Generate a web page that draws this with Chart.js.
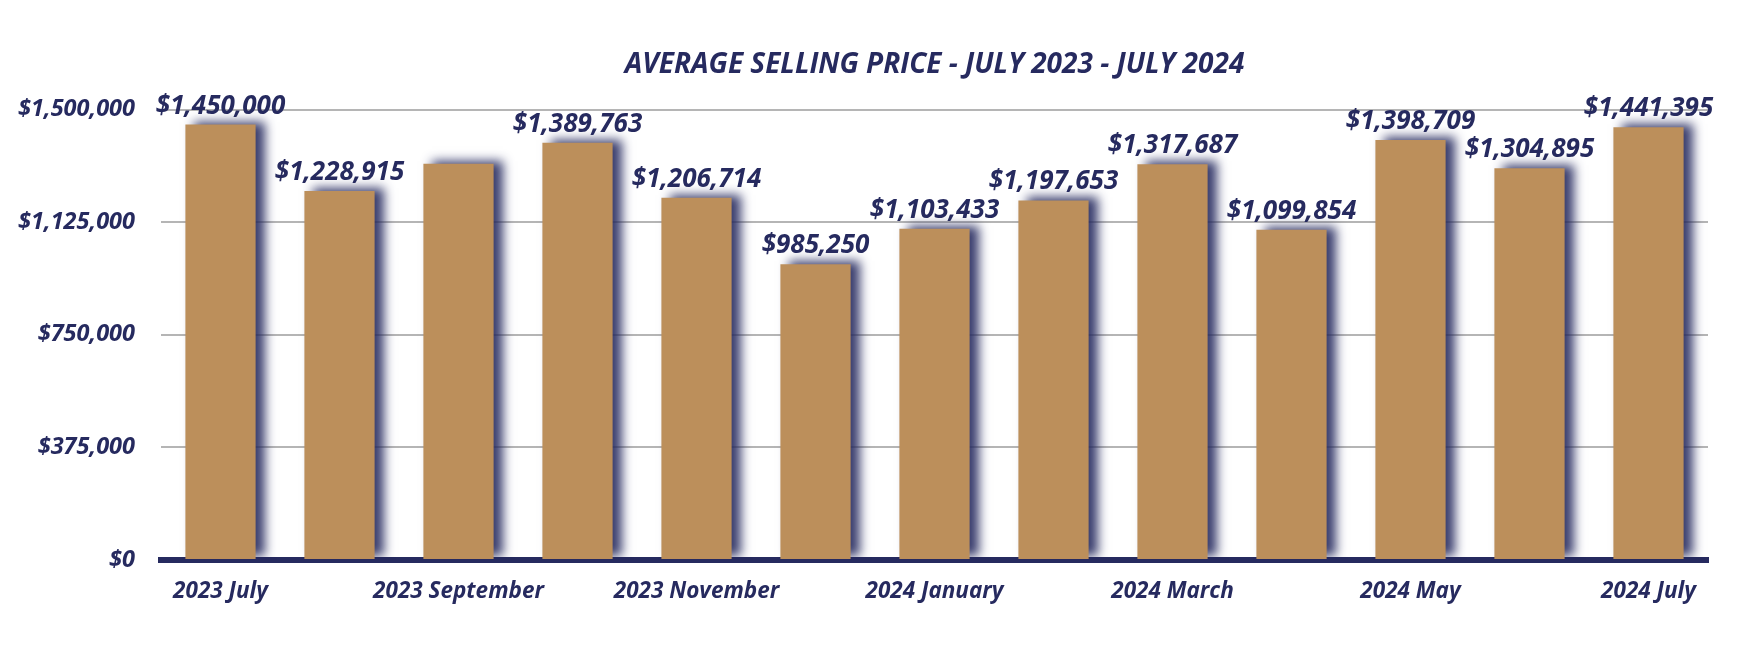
<!DOCTYPE html>
<html>
<head>
<meta charset="utf-8">
<script src="https://cdn.jsdelivr.net/npm/chart.js@4/dist/chart.umd.min.js"></script>
<style>
  html, body { margin: 0; padding: 0; background: #ffffff; }
  #wrap { width: 1760px; height: 660px; }
</style>
</head>
<body>
<div id="wrap"><canvas id="c" width="1760" height="660"></canvas></div>
<script>
// ---- data ----
const categories = [
  "2023 July", "2023 August", "2023 September", "2023 October", "2023 November",
  "2023 December", "2024 January", "2024 February", "2024 March", "2024 April",
  "2024 May", "2024 June", "2024 July"
];
const avgPrice = [
  1450000, 1228915, 1320000, 1389763, 1206714, 985250, 1103433,
  1197653, 1317687, 1099854, 1398709, 1304895, 1441395
];
// whether each bar carries a value label in the original
const showValueLabel = [true, true, false, true, true, true, true, true, true, true, true, true, true];
const yTickValues = [0, 375000, 750000, 1125000, 1500000];
const titleText = "AVERAGE SELLING PRICE - JULY 2023 - JULY 2024";

// ---- styles ----
const NAVY = "#262a5f";
const BAR = "#bc8f5b";
const FONT = "'Open Sans', 'DejaVu Sans', sans-serif";

function money(v) {
  return "$" + Math.round(v).toLocaleString("en-US");
}

const shadowPlugin = {
  id: "barShadow",
  beforeDatasetDraw(chart) {
    const ctx = chart.ctx;
    ctx.save();
    ctx.shadowColor = "rgba(38,42,95,0.9)";
    ctx.shadowBlur = 10;
    ctx.shadowOffsetX = 9;
    ctx.shadowOffsetY = -3;
  },
  afterDatasetDraw(chart) {
    chart.ctx.restore();
  }
};

const valueLabelPlugin = {
  id: "valueLabels",
  afterDatasetsDraw(chart) {
    const ctx = chart.ctx;
    const meta = chart.getDatasetMeta(0);
    ctx.save();
    ctx.font = "italic bold 26px " + FONT;
    ctx.fillStyle = NAVY;
    ctx.textAlign = "center";
    ctx.textBaseline = "alphabetic";
    meta.data.forEach((bar, i) => {
      if (!showValueLabel[i]) return;
      ctx.fillText(money(avgPrice[i]), bar.x, bar.y - 11);
    });
    ctx.restore();
  }
};

new Chart(document.getElementById("c"), {
  type: "bar",
  data: {
    labels: categories,
    datasets: [{
      data: avgPrice,
      backgroundColor: BAR,
      borderWidth: 0,
      categoryPercentage: 1.0,
      barPercentage: 0.59
    }]
  },
  options: {
    responsive: false,
    animation: false,
    layout: { padding: { left: 17, right: 52, top: 0, bottom: 40 } },
    plugins: {
      legend: { display: false },
      tooltip: { enabled: false },
      title: {
        display: true,
        text: titleText,
        fullSize: false,
        color: NAVY,
        font: { family: FONT, size: 28, weight: "bold", style: "italic", lineHeight: 1.2 },
        padding: { top: 48, bottom: 28 }
      }
    },
    scales: {
      x: {
        grid: { display: false, drawTicks: false },
        border: { display: true, color: NAVY, width: 6 },
        ticks: {
          autoSkip: false,
          maxRotation: 0,
          minRotation: 0,
          padding: 18,
          color: NAVY,
          font: { family: FONT, size: 22.5, weight: "bold", style: "italic" },
          callback(value, index) { return index % 2 === 0 ? categories[index] : ""; }
        },
        afterFit(s) { s.height = 60; }
      },
      y: {
        min: 0,
        max: 1500000,
        afterBuildTicks(s) { s.ticks = yTickValues.map(v => ({ value: v })); },
        grid: { color: "#b5b5b5", lineWidth: 2, drawTicks: false },
        border: { display: false },
        ticks: {
          padding: 26,
          color: NAVY,
          font: { family: FONT, size: 23.5, weight: "bold", style: "italic" },
          callback(v) { return money(v); }
        },
        afterFit(s) { s.width = 144; }
      }
    }
  },
  plugins: [shadowPlugin, valueLabelPlugin]
});
</script>
</body>
</html>
